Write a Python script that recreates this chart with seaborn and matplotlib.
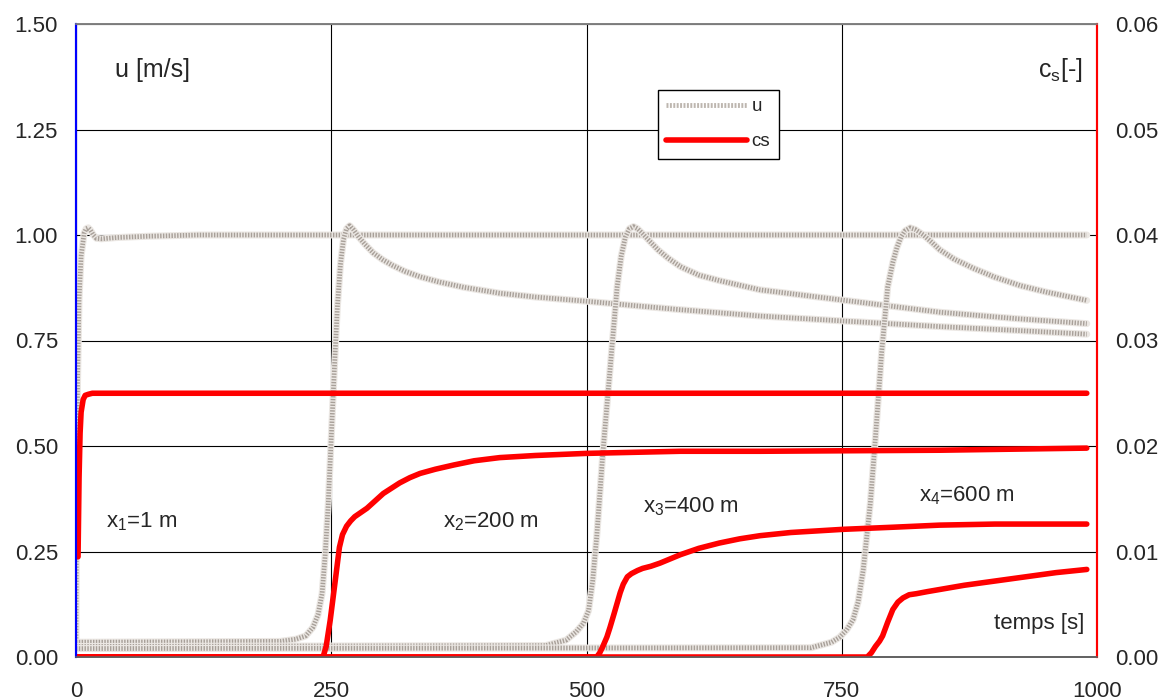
import numpy as np
import pandas as pd
import matplotlib
matplotlib.use("Agg")
import matplotlib.pyplot as plt
from matplotlib.lines import Line2D
import seaborn as sns

# vitesse u [m/s] aux 4 stations
t_u1 = [0, 0.5, 1.5, 3, 5, 8, 10, 12, 14, 17, 20, 25, 40, 70, 120, 990]
u1 = [0.03, 0.30, 0.65, 0.85, 0.95, 1.005, 1.015, 1.017, 1.012, 1.0, 0.992, 0.991,
      0.994, 0.997, 1.0, 1.0]

t_u2 = [0, 200, 215, 225, 232, 237, 241, 244, 247, 250, 253, 256, 259, 262, 265,
        268, 272, 277, 283, 291, 300, 310, 322, 337, 355, 380, 415, 450, 500,
        550, 592, 670, 760, 846, 920, 990]
u2 = [0.035, 0.037, 0.042, 0.05, 0.07, 0.10, 0.15, 0.24, 0.36, 0.52, 0.68, 0.83,
      0.93, 0.99, 1.015, 1.022, 1.012, 0.995, 0.978, 0.958, 0.942, 0.928, 0.914,
      0.901, 0.889, 0.876, 0.862, 0.853, 0.843, 0.832, 0.823, 0.808, 0.795,
      0.783, 0.774, 0.765]

t_u3 = [0, 460, 480, 490, 497, 502, 506, 510, 516, 523, 530, 534, 538, 542, 546,
        550, 555, 562, 570, 580, 592, 610, 630, 670, 720, 760, 846, 920, 990]
u3 = [0.025, 0.027, 0.04, 0.06, 0.08, 0.11, 0.18, 0.285, 0.483, 0.68, 0.877,
      0.95, 0.995, 1.015, 1.02, 1.015, 1.003, 0.985, 0.965, 0.945, 0.925, 0.905,
      0.892, 0.87, 0.855, 0.843, 0.817, 0.802, 0.79]

t_u4 = [0, 720, 740, 748, 755, 761, 766, 771, 778, 783, 789, 795, 800, 804, 808,
        812, 817, 822, 830, 838, 846, 860, 880, 900, 925, 950, 970, 990]
u4 = [0.02, 0.022, 0.035, 0.047, 0.065, 0.088, 0.13, 0.206, 0.365, 0.52, 0.72,
      0.877, 0.935, 0.97, 0.995, 1.01, 1.017, 1.013, 1.0, 0.983, 0.965, 0.943,
      0.92, 0.9, 0.88, 0.865, 0.855, 0.845]

# concentration cs [-]
t_c1 = [0, 2, 3, 4, 5, 7, 9, 12, 16, 990]
c1 = [0.0095, 0.0095, 0.017, 0.0212, 0.0232, 0.0244, 0.0248, 0.0249, 0.025, 0.025]

t_c2 = [0, 242, 245, 249, 254, 258, 261, 265, 269, 273, 279, 285, 293, 301, 309,
        317, 327, 337, 352, 370, 390, 415, 450, 500, 592, 670, 846, 990]
c2 = [0.0, 0.0, 0.001, 0.0035, 0.0073, 0.0104, 0.0116, 0.0124, 0.0129, 0.0133,
      0.0137, 0.0141, 0.0148, 0.0155, 0.016, 0.0165, 0.017, 0.0174, 0.0178,
      0.0182, 0.0186, 0.0189, 0.0191, 0.0193, 0.0195, 0.0195, 0.0196, 0.0198]

t_c3 = [0, 510, 513, 516, 520, 523, 527, 530, 533, 536, 540, 544, 550, 555, 563,
        572, 582, 592, 610, 630, 650, 670, 700, 751, 800, 846, 900, 990]
c3 = [0.0, 0.0, 0.0004, 0.001, 0.0019, 0.0028, 0.0041, 0.0051, 0.0061, 0.0069,
      0.0076, 0.0079, 0.0082, 0.0084, 0.0086, 0.0089, 0.0093, 0.0097, 0.0103,
      0.0108, 0.0112, 0.0115, 0.0118, 0.0121, 0.0123, 0.0125, 0.0126, 0.0126]

t_c4 = [0, 775, 779, 783, 787, 790, 795, 800, 805, 810, 816, 823, 834, 846, 870,
        900, 930, 960, 990]
c4 = [0.0, 0.0, 0.0004, 0.001, 0.0015, 0.002, 0.0033, 0.0045, 0.0052, 0.0056,
      0.0059, 0.006, 0.0062, 0.0064, 0.0068, 0.0072, 0.0076, 0.008, 0.0083]

u_series = [(t_u1, u1), (t_u2, u2), (t_u3, u3), (t_u4, u4)]
c_series = [(t_c1, c1), (t_c2, c2), (t_c3, c3), (t_c4, c4)]

station_labels = ["x$_1$=1 m", "x$_2$=200 m", "x$_3$=400 m", "x$_4$=600 m"]
x_ticks = [0, 250, 500, 750, 1000]
u_ticks = [0.0, 0.25, 0.5, 0.75, 1.0, 1.25, 1.5]
c_ticks = [0.0, 0.01, 0.02, 0.03, 0.04, 0.05, 0.06]

sns.set_style("white")
plt.rcParams["font.family"] = ["Liberation Sans", "DejaVu Sans"]
plt.rcParams["mathtext.fontset"] = "custom"
plt.rcParams["mathtext.rm"] = "Liberation Sans"
plt.rcParams["mathtext.it"] = "Liberation Sans"

fig = plt.figure(figsize=(11.7, 7), dpi=100)
ax = fig.add_axes([76 / 1170, 43 / 700, 1021 / 1170, 633 / 700])
ax2 = ax.twinx()

# textured grey line (Excel-like pattern): light base + fine dots
grey_base = "#ebe7e3"
grey_dot = "#a8a099"
for t, v in u_series:
    df = pd.DataFrame({"t": t, "u": v})
    sns.lineplot(data=df, x="t", y="u", ax=ax, color=grey_base, lw=5,
                 solid_capstyle="round", solid_joinstyle="round", legend=False)
    sns.lineplot(data=df, x="t", y="u", ax=ax, color=grey_dot, lw=3.4,
                 linestyle=(0, (0.3, 0.3)), legend=False)

for t, v in c_series:
    df = pd.DataFrame({"t": t, "cs": v})
    sns.lineplot(data=df, x="t", y="cs", ax=ax2, color="#ff0000", lw=4,
                 solid_joinstyle="round", legend=False)

ax.set_xlim(0, 1000)
ax.set_ylim(0, 1.5)
ax2.set_ylim(0, 0.06)
ax.set_xticks(x_ticks)
ax.set_yticks(u_ticks)
ax2.set_yticks(c_ticks)
ax.set_yticklabels([f"{v:.2f}" for v in u_ticks])
ax2.set_yticklabels([f"{v:.2f}" for v in c_ticks])
ax.set_xlabel("")
ax.set_ylabel("")
ax2.set_ylabel("")

ax.grid(True, color="black", lw=0.8)
ax.set_axisbelow(True)

ax.tick_params(axis="x", direction="out", length=6, pad=11, labelsize=16,
               color="#404040")
ax.tick_params(axis="y", direction="out", length=0, pad=13, labelsize=16)
ax2.tick_params(axis="y", direction="out", length=0, pad=13, labelsize=16)

for a in (ax, ax2):
    a.spines["top"].set_color("#808080")
    a.spines["bottom"].set_color("#606060")
    a.spines["left"].set_color("#0000ff")
    a.spines["right"].set_color("#ff0000")
    for s in a.spines.values():
        s.set_linewidth(1.5)
    a.spines["top"].set_linewidth(1.2)
    a.spines["bottom"].set_linewidth(1.2)

ax.text(38, 1.39, "u [m/s]", fontsize=18, va="center")
ax.text(986, 1.39, "c$_\\mathrm{s}$[-]", fontsize=18, va="center", ha="right")

label_pos = [(29, 0.32), (359, 0.32), (555, 0.357), (826, 0.382)]
for (x, y), lab in zip(label_pos, station_labels):
    ax.text(x, y, lab, fontsize=16, va="center")
ax.text(988, 0.08, "temps [s]", fontsize=16, va="center", ha="right")

handles = [Line2D([], [], color="#bdb6af", lw=3.5, linestyle=(0, (0.4, 0.3))),
           Line2D([], [], color="#ff0000", lw=4)]
leg = ax2.legend(handles, ["u", "cs"], loc="upper left",
                 bbox_to_anchor=(0.57, 0.896), fontsize=13.5, frameon=True,
                 fancybox=False, edgecolor="black", framealpha=1,
                 handlelength=4.3, handletextpad=0.25, borderpad=0.45,
                 labelspacing=0.95, borderaxespad=0)
leg.get_frame().set_linewidth(1.0)

fig.savefig("out.png", dpi=100)
